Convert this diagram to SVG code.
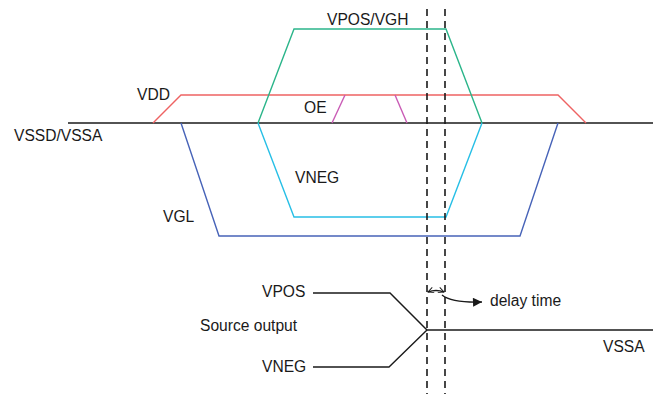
<svg xmlns="http://www.w3.org/2000/svg" width="656" height="394" viewBox="0 0 656 394">
<style>
text{font-family:"Liberation Sans",Arial,sans-serif;font-size:15.6px;fill:#1a1a1a}
.w{fill:none;stroke-width:1.4;stroke-linejoin:miter}
.k{stroke:#1a1a1a}
.d{fill:none;stroke:#1a1a1a;stroke-width:1.6;stroke-dasharray:7 5}
</style>
<defs>
<marker id="open" viewBox="0 0 10 10" refX="9" refY="5" markerWidth="7" markerHeight="7" orient="auto-start-reverse" markerUnits="userSpaceOnUse">
<path d="M1 1 L9 5 L1 9" fill="none" stroke="#1a1a1a" stroke-width="1.3"/>
</marker>
<marker id="fill" viewBox="0 0 10 10" refX="10" refY="5" markerWidth="12" markerHeight="9" orient="auto" markerUnits="userSpaceOnUse">
<path d="M0 0 L10 5 L0 10 Z" fill="#1a1a1a"/>
</marker>
</defs>
<g id="connectors">
<line id="baseline" class="w k" x1="68" y1="123" x2="653" y2="123"/>
<polyline id="vdd" class="w" stroke="#ee6363" points="153,123 181,95 558,95 586,123"/>
<polyline id="vgh" class="w" stroke="#2bb58a" points="258,123 294,29 446,29 482,123"/>
<polyline id="vneg" class="w" stroke="#27bfe6" points="258,123 294,217 446,217 482,123"/>
<polyline id="vgl" class="w" stroke="#4763b8" points="181,123 219,236 520,236 558,123"/>
<line class="w" stroke="#c95bb5" x1="332" y1="123" x2="345" y2="95"/>
<line class="w" stroke="#c95bb5" x1="395" y1="95" x2="407" y2="123"/>
<line class="d" x1="427" y1="9" x2="427" y2="394"/>
<line class="d" x1="445" y1="9" x2="445" y2="394"/>
<polyline class="w k" points="313,293 390,293 427,330 653,330"/>
<polyline class="w k" points="313,367 389,367 427,330"/>
<path class="w k" stroke-width="1.1" d="M428 292 Q436 289 444 292" marker-start="url(#open)" marker-end="url(#open)"/>
<path class="w k" stroke-width="1.2" d="M442 295 Q452 303 482 302" marker-end="url(#fill)"/>
</g>
<g id="labels">
<text x="327" y="25">VPOS/VGH</text>
<text x="137" y="100">VDD</text>
<text x="304" y="113">OE</text>
<text x="14" y="141">VSSD/VSSA</text>
<text x="295" y="183">VNEG</text>
<text x="163" y="222">VGL</text>
<text x="262" y="297">VPOS</text>
<text x="200" y="331">Source output</text>
<text x="262" y="372">VNEG</text>
<text x="490" y="306">delay time</text>
<text x="603" y="352">VSSA</text>
</g>
</svg>
